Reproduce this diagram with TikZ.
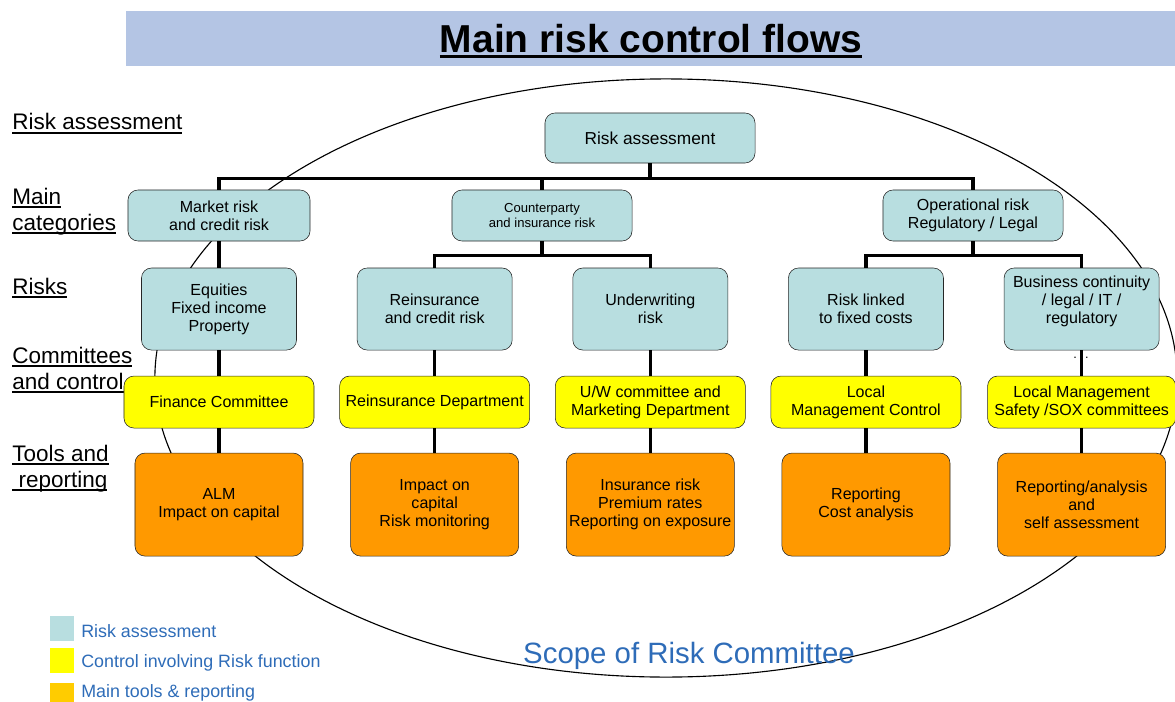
\documentclass[tikz,border=0pt]{standalone}
\usepackage{xcolor}
\usepackage{fontspec}
\setmainfont{Liberation Sans}
\usepackage{tikz}
\usetikzlibrary{positioning}
\usetikzlibrary{shapes,arrows,calc,arrows.meta}

\definecolor{assessblue}{RGB}{184,222,224}
\definecolor{ctrlyellow}{RGB}{255,255,0}
\definecolor{toolorange}{RGB}{255,153,0}
\definecolor{keygold}{RGB}{255,204,0}
\definecolor{bandblue}{RGB}{180,197,228}
\definecolor{scopeblue}{RGB}{46,108,184}

\newcommand{\boxfont}{\fontsize{11.4}{12.8}\selectfont}
\newcommand{\smallboxfont}{\fontsize{9.3}{10.7}\selectfont}
\newcommand{\thickul}[2]{\leavevmode\vtop{\hbox{\raisebox{0pt}[\height][0pt]{#2}}\kern1.2pt\hrule height #1}}

\begin{document}
\begin{tikzpicture}[x=0.025cm, y=-0.025cm, node distance=5.39cm, auto,
    assess/.style={draw=black!85, rounded corners=0.25cm, fill=assessblue, align=center, inner sep=2pt, font=\boxfont},
    topbox/.style={assess, minimum width=5.25cm, minimum height=1.25cm, font=\fontsize{12.3}{14}\selectfont},
    catbox/.style={assess, minimum width=4.55cm, minimum height=1.275cm},
    riskbox/.style={assess, minimum width=3.875cm, minimum height=2.05cm},
    ctrlbox/.style={assess, fill=ctrlyellow, minimum width=4.75cm, minimum height=1.3cm},
    toolbox/.style={assess, fill=toolorange, minimum width=4.2cm, minimum height=2.575cm},
    flow/.style={line width=2.5pt},
    lbl/.style={anchor=base west, align=left, inner sep=0pt, font=\fontsize{16}{18}\selectfont},
    heading/.style={anchor=base, inner sep=0pt, font=\fontsize{27.7}{30}\selectfont\bfseries},
    legsq/.style={inner sep=0pt, minimum width=0.6cm, minimum height=0.625cm},
    legtext/.style={anchor=base west, inner sep=0pt, text=scopeblue, font=\fontsize{12.7}{14}\selectfont},
    scopetext/.style={inner sep=0pt, text=scopeblue, font=\fontsize{20.9}{24}\selectfont}]
    \clip (0,0) rectangle (1175,702);

    % Title and scope
    \fill [bandblue] (126,11) rectangle (1175,66);
    \node [heading] (title) at (651,53) {\thickul{2.6pt}{Main risk control flows}};
    \draw [line width=0.8pt] (666,378) ellipse [x radius=12.775cm, y radius=7.475cm];

    % Row labels
    \node [lbl] (lassess) at (12,130) {\thickul{1.4pt}{Risk assessment}};
    \node [lbl] (lcat) at (12,230) {\thickul{1.4pt}{Main}\\\thickul{1.4pt}{categories}};
    \node [lbl] (lrisk) at (12,294) {\thickul{1.4pt}{Risks}};
    \node [lbl] (lctrl) at (12,389) {\thickul{1.4pt}{Committees}\\\thickul{1.4pt}{and control}};
    \node [lbl] (ltool) at (12,487) {\thickul{1.4pt}{Tools and}\\\thickul{1.4pt}{\ reporting}};

    % Nodes
    \node [topbox] (ra) at (650,138) {Risk assessment};
    \node [catbox] (mkt) at (219,215.5) {Market risk\\and credit risk};
    \node [catbox, minimum width=4.5cm, font=\smallboxfont] (cpty) at (542,215.5) {Counterparty\\and insurance risk};
    \node [catbox, minimum width=4.5cm] (oprisk) at (973,215.5) {Operational risk\\Regulatory / Legal};

    \node [riskbox, node distance=2.3375cm, below of=mkt] (equ) {Equities\\Fixed income\\Property};
    \node [riskbox, right of=equ] (reins) {Reinsurance\\and credit risk};
    \node [riskbox, right of=reins] (uw) {Underwriting\\risk};
    \node [riskbox, right of=uw] (fixc) {Risk linked\\to fixed costs};
    \node [riskbox, right of=fixc] (bcont) {Business continuity\\/ legal / IT /\\regulatory\\\mbox{}};
    \node [font=\fontsize{9}{10}\selectfont, inner sep=0pt] (dots) at (1081,358) {.\hspace{6pt}.};

    \node [ctrlbox, node distance=2.325cm, below of=equ] (fin) {Finance Committee};
    \node [ctrlbox, right of=fin] (reindep) {Reinsurance Department};
    \node [ctrlbox, right of=reindep] (uwc) {U/W committee and\\Marketing Department};
    \node [ctrlbox, right of=uwc] (lmc) {Local\\Management Control};
    \node [ctrlbox, minimum width=4.7cm, right of=lmc] (lms) {Local Management\\Safety /SOX committees};

    \node [toolbox, node distance=2.5625cm, below of=fin] (alm) {ALM\\Impact on capital};
    \node [toolbox, right of=alm] (impact) {Impact on\\capital\\Risk monitoring};
    \node [toolbox, right of=impact] (insur) {Insurance risk\\Premium rates\\Reporting on exposure};
    \node [toolbox, right of=insur] (repcost) {Reporting\\Cost analysis};
    \node [toolbox, right of=repcost] (repself) {Reporting/analysis\\and\\self assessment};

    % Lines
    \draw [flow] (ra.south) -- ++(0,15) -| (mkt.north);
    \draw [flow] (ra.south) -- ++(0,15) -| (cpty.north);
    \draw [flow] (ra.south) -- ++(0,15) -| (oprisk.north);
    \draw [flow] (mkt) -- (equ);
    \draw [flow] (cpty.south) -- ++(0,14) -| (reins.north);
    \draw [flow] (cpty.south) -- ++(0,14) -| (uw.north);
    \draw [flow] (oprisk.south) -- ++(0,14) -| (fixc.north);
    \draw [flow] (oprisk.south) -- ++(0,14) -| (bcont.north);
    \foreach \r/\c/\t in {equ/fin/alm, reins/reindep/impact, uw/uwc/insur, fixc/lmc/repcost, bcont/lms/repself}
        \draw [flow] (\r) -- (\c) -- (\t);

    % Legend
    \node [legsq, fill=assessblue] (key1) at (62,628) {};
    \node [legsq, fill=ctrlyellow] (key2) at (62,660.5) {};
    \node [legsq, fill=keygold] (key3) at (62,695.5) {};
    \node [legtext] (key1txt) at (81,637) {Risk assessment};
    \node [legtext] (key2txt) at (81,667) {Control involving Risk function};
    \node [legtext] (key3txt) at (81,697) {Main tools \& reporting};

    \node [scopetext] (scopelbl) at (689,656) {Scope of Risk Committee};
\end{tikzpicture}
\end{document}
